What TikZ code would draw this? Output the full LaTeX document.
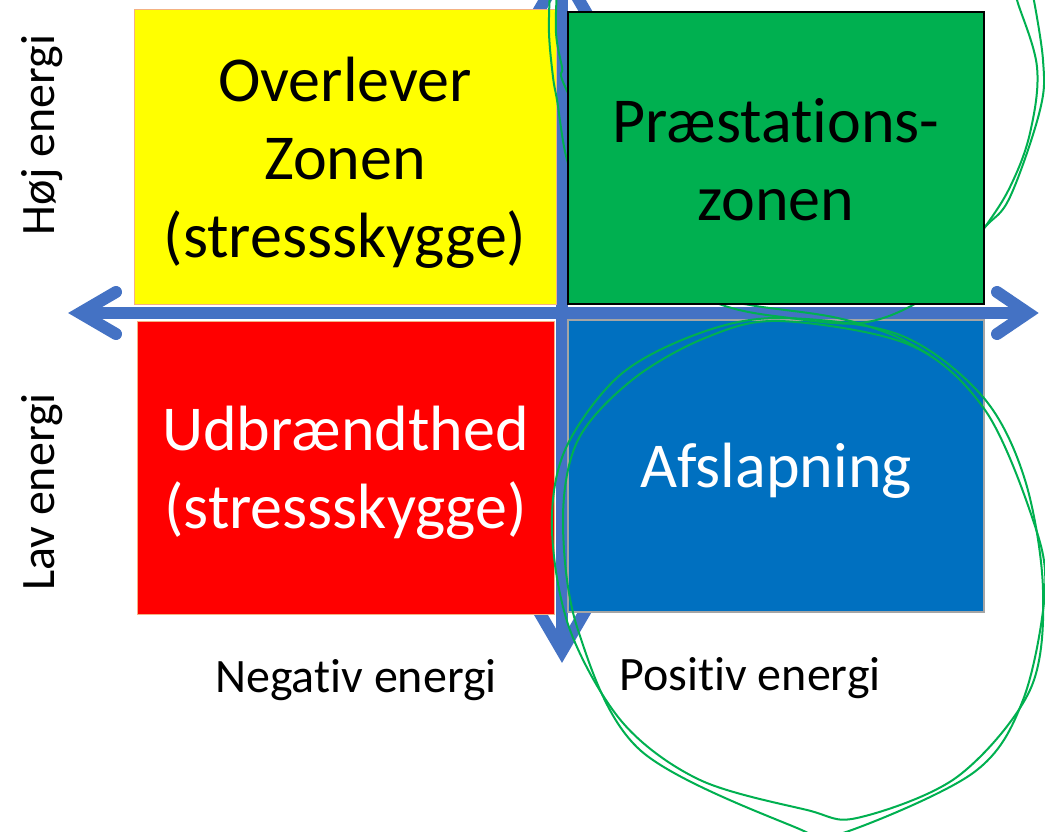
\documentclass[tikz,border=0pt]{standalone}
\usepackage{fontspec}
\setmainfont{Carlito}[Ligatures=NoCommon, Contextuals=NoAlternate, RawFeature={-liga;-clig;-calt;-dlig}]
\definecolor{qyellow}{HTML}{FFFF00}
\definecolor{qgreen}{HTML}{00B050}
\definecolor{qred}{HTML}{FF0000}
\definecolor{qblue}{HTML}{0070C0}
\definecolor{qarrow}{HTML}{4472C4}
\definecolor{qorange}{HTML}{F4B183}
\definecolor{qgray}{HTML}{A5A5A5}
\definecolor{qpen}{HTML}{00B050}
\begin{document}
\begin{tikzpicture}[x=1pt,y=-1pt,
  quad/.style={inner sep=0pt},
  qtext/.style={inner sep=0pt, align=center, font=\fontsize{64}{78}\selectfont},
  lbl/.style={inner sep=0pt, font=\fontsize{48}{58}\selectfont},
  axis/.style={qarrow, line width=12pt},
  chev/.style={qarrow, line width=12pt, line cap=round, line join=miter, miter limit=10},
  pen/.style={qpen, line width=2pt}]
\useasboundingbox (0,0) rectangle (1045,832);
\clip (0,0) rectangle (1045,832);
\fill[white] (0,0) rectangle (1045,832);
% axes
\coordinate (hl) at (80,313);
\coordinate (hr) at (1028,313);
\coordinate (vt) at (562,-29);
\coordinate (vb) at (562,651);
\draw[axis] (hl) -- (hr);
\draw[axis] (vt) -- (vb);
\draw[chev] (116,292) -- (hl) -- (116,334);
\draw[chev] (997,292) -- (hr) -- (997,334);
\draw[chev] (534,19) -- (vt) -- (590,19);
\draw[chev, line cap=butt] (534,603) -- (vb) -- (590,603);
% boxes
\node[quad, fill=qyellow, draw=qorange, line width=1pt, minimum width=422pt, minimum height=294pt] (yel) at (345,157) {};
\node[qtext] (yelt) at ([yshift=-6pt]yel.center) {Overlever\\Zonen\\(stressskygge)};
\node[quad, fill=qred, draw=qorange, line width=1pt, minimum width=417pt, minimum height=293pt] (red) at (345.5,467.5) {};
\node[qtext, text=white] (redt) at ([yshift=-5pt]red.center) {Udbrændthed\\(stressskygge)};
\node[quad, fill=qblue, draw=qgray, line width=1.5pt, minimum width=416pt, minimum height=292pt] (blu) at (776,466) {};
\node[qtext, text=white] (blut) at ([yshift=-5pt]blu.center) {Afslapning};
% hand-drawn loops
\draw[pen] plot[smooth, tension=0.6] coordinates {(1017,-10) (1017,0) (1037,67) (1030,133) (1010,187) (983,230) (950,275) (913,305) (860,323) (790,318) (722,305) (650,270) (590,200) (568,163) (557,100) (553,77) (549,33) (550,-10)};
\draw[pen] plot[smooth, tension=0.6] coordinates {(557,-10) (556,33) (562,67) (568,93) (640,230) (720,295) (750,305) (833,317) (890,334) (930,355)};
\draw[pen] plot[smooth, tension=0.6] coordinates {(1032,-10) (1043,60) (1040,110) (1010,197) (985,227) (950,265)};
\draw[pen] plot[smooth cycle, tension=0.55] coordinates {(780,318) (900,335) (983,397) (1025,480) (1043,590) (1030,690) (957,777) (857,818) (807,810) (700,780) (623,723) (570,630) (552,530) (565,450) (620,375) (700,333)};
\draw[pen] plot[smooth cycle, tension=0.55] coordinates {(780,321) (910,345) (985,410) (1033,520) (1045,590) (1023,700) (973,773) (840,834) (797,828) (640,750) (578,630) (563,520) (578,440) (632,380) (705,338)};
% green box on top
\node[quad, fill=qgreen, draw=black, line width=1.5pt, minimum width=416pt, minimum height=292pt] (grn) at (776,158) {};
\node[qtext] (grnt) at ([yshift=-2pt]grn.center) {Præstations-\\zonen};
% axis labels
\node[lbl] (neg) at (356,680) {Negativ energi};
\node[lbl] (pos) at (750,678) {Positiv energi};
\node[lbl, rotate=90] (hoj) at (42,135) {Høj energi};
\node[lbl, rotate=90] (lav) at (42,492) {Lav energi};
\end{tikzpicture}
\end{document}
